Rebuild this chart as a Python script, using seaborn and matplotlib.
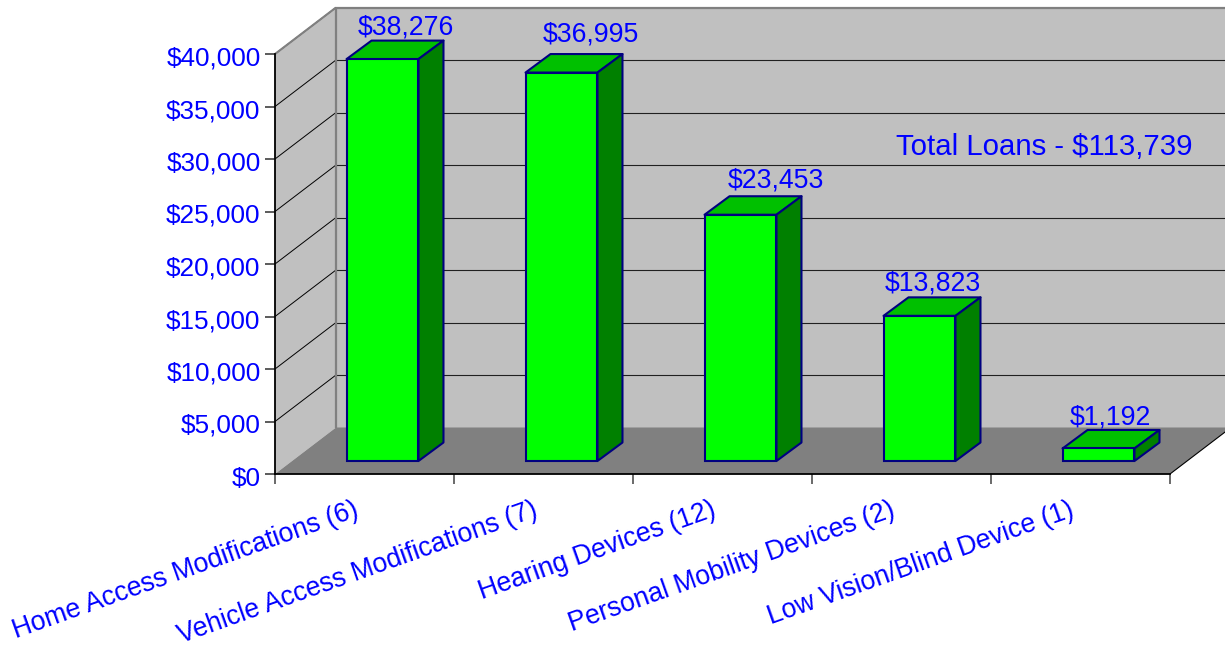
import numpy as np
import matplotlib
matplotlib.use("Agg")
import matplotlib.pyplot as plt
from matplotlib.patches import Polygon
from matplotlib.transforms import Affine2D, IdentityTransform
from matplotlib.ticker import StrMethodFormatter
import seaborn as sns

categories = ["Home Access Modifications (6)", "Vehicle Access Modifications (7)",
              "Hearing Devices (12)", "Personal Mobility Devices (2)",
              "Low Vision/Blind Device (1)"]
values = [38276, 36995, 23453, 13823, 1192]
y_ticks = [0, 5000, 10000, 15000, 20000, 25000, 30000, 35000, 40000]
annotation = "Total Loans - $113,739"

WALL = "#C0C0C0"; FLOOR = "#808080"; FRONT = "#00FF00"; TOP = "#00C000"; SIDE = "#008000"
EDGE = "#000080"; TEXT = "#0000FF"; FS = 18.8
DEPTH = (61, 46.5); BAR_FRONT = (18, 13); BAR_BACK = (43, 31.5)
LABEL_DX = [41, 47, 53, 31, 30]
LABEL_DY = [38, 44, 40, 38, 37]

sns.set_theme(style="white")
plt.rcParams["font.family"] = ["Liberation Sans", "DejaVu Sans"]
plt.rcParams["text.parse_math"] = False

fig = plt.figure(figsize=(12.25, 6.45), dpi=100, facecolor="white")
ax = fig.add_axes([275 / 1225, (645 - 474) / 645, 895 / 1225, 420 / 645])
ax.patch.set_visible(False)

sns.barplot(x=categories, y=values, color=FRONT, saturation=1, width=0.402,
            edgecolor=EDGE, linewidth=1.5, ax=ax, zorder=5)
bars = list(ax.patches)
ax.set_xlim(-0.5, 4.5)
ax.set_ylim(0, 40000)
ax.set_yticks(y_ticks)
ax.yaxis.set_major_formatter(StrMethodFormatter("${x:,.0f}"))


def pt(x, y, off=(0, 0)):
    px = ax.transData.transform((x, y))
    return (px[0] + off[0], px[1] + off[1])


def poly(points, **kw):
    p = Polygon(points, closed=True, transform=IdentityTransform(), clip_on=False, **kw)
    ax.add_artist(p)
    return p


def seg(a, b, **kw):
    ax.plot([a[0], b[0]], [a[1], b[1]], transform=IdentityTransform(),
            clip_on=False, solid_capstyle="butt", **kw)


x0, x1 = ax.get_xlim()
y1 = ax.get_ylim()[1]
# walls and floor
poly([pt(x0, 0), pt(x0, y1), pt(x0, y1, DEPTH), pt(x0, 0, DEPTH)], fc=WALL, ec="none", zorder=1)
poly([pt(x0, 0, DEPTH), pt(x0, y1, DEPTH), pt(x1, y1, DEPTH), pt(x1, 0, DEPTH)], fc=WALL, ec="none", zorder=1)
poly([pt(x0, 0), pt(x1, 0), pt(x1, 0, DEPTH), pt(x0, 0, DEPTH)], fc=FLOOR, ec="none", zorder=1.2)
# gridlines
for v in y_ticks[1:]:
    seg(pt(x0, v), pt(x0, v, DEPTH), color="black", lw=0.7, zorder=1.5)
    if v < y_ticks[-1]:
        seg(pt(x0, v, DEPTH), pt(x1, v, DEPTH), color="#202020", lw=0.8, zorder=1.1)
seg(pt(x0, y1), pt(x0, y1, DEPTH), color=FLOOR, lw=1.5, zorder=1.6)
seg(pt(x0, y1, DEPTH), pt(x1, y1, DEPTH), color=FLOOR, lw=1.6, zorder=1.6)
seg(pt(x0, 0, DEPTH), pt(x0, y1, DEPTH), color=FLOOR, lw=1.6, zorder=1.6)
seg(pt(x1, 0), pt(x1, 0, DEPTH), color="black", lw=0.8, zorder=1.6)

# 3D bars
for bar, val, dx, dy in zip(bars, values, LABEL_DX, LABEL_DY):
    bar.set_transform(ax.transData + Affine2D().translate(*BAR_FRONT))
    bar.set_clip_on(False)
    l, r, h = bar.get_x(), bar.get_x() + bar.get_width(), bar.get_height()
    poly([pt(l, h, BAR_FRONT), pt(r, h, BAR_FRONT), pt(r, h, BAR_BACK), pt(l, h, BAR_BACK)],
         fc=TOP, ec=EDGE, lw=1.5, zorder=4, joinstyle="round")
    poly([pt(r, 0, BAR_FRONT), pt(r, h, BAR_FRONT), pt(r, h, BAR_BACK), pt(r, 0, BAR_BACK)],
         fc=SIDE, ec=EDGE, lw=1.5, zorder=4, joinstyle="round")
    c = bar.get_x() + bar.get_width() / 2
    ax.annotate(f"${val:,}", xy=(c, h), xycoords="data",
                xytext=(dx, dy), textcoords="offset pixels",
                ha="center", va="baseline", fontsize=19.2, color=TEXT, zorder=6, annotation_clip=False)

ax.text(1192, 645 - 155, annotation, transform=IdentityTransform(), ha="right", va="baseline",
        fontsize=21.2, color=TEXT, zorder=6)

# axes furniture
sns.despine(ax=ax, top=True, right=True)
for side in ("left", "bottom"):
    ax.spines[side].set_color("black")
    ax.spines[side].set_linewidth(1.3)
    ax.spines[side].set_zorder(2)
ax.set_xticks(range(len(categories)), labels=categories, rotation=19.6, ha="right",
              rotation_mode="anchor", va="top", fontsize=19.2, color=TEXT)
ax.set_xticks(np.arange(x0, x1 + 0.01), minor=True)
ax.tick_params(axis="x", which="major", bottom=True, length=0, pad=17.5)
ax.tick_params(axis="x", which="minor", bottom=True, length=7.2, width=1.2, color="#505050")
ax.tick_params(axis="y", which="major", left=True, length=7.2, width=1.2, color="#404040",
               pad=3.2, labelsize=FS, labelcolor=TEXT)
ax.grid(False)
ax.set_xlabel(""); ax.set_ylabel("")
for lab in ax.get_xticklabels():
    lab.set_transform(lab.get_transform() + Affine2D().translate(-11.5, 1.5))
for lab in ax.get_yticklabels():
    lab.set_transform(lab.get_transform() + Affine2D().translate(0, -2))

fig.savefig("out.png", dpi=100, facecolor="white")
